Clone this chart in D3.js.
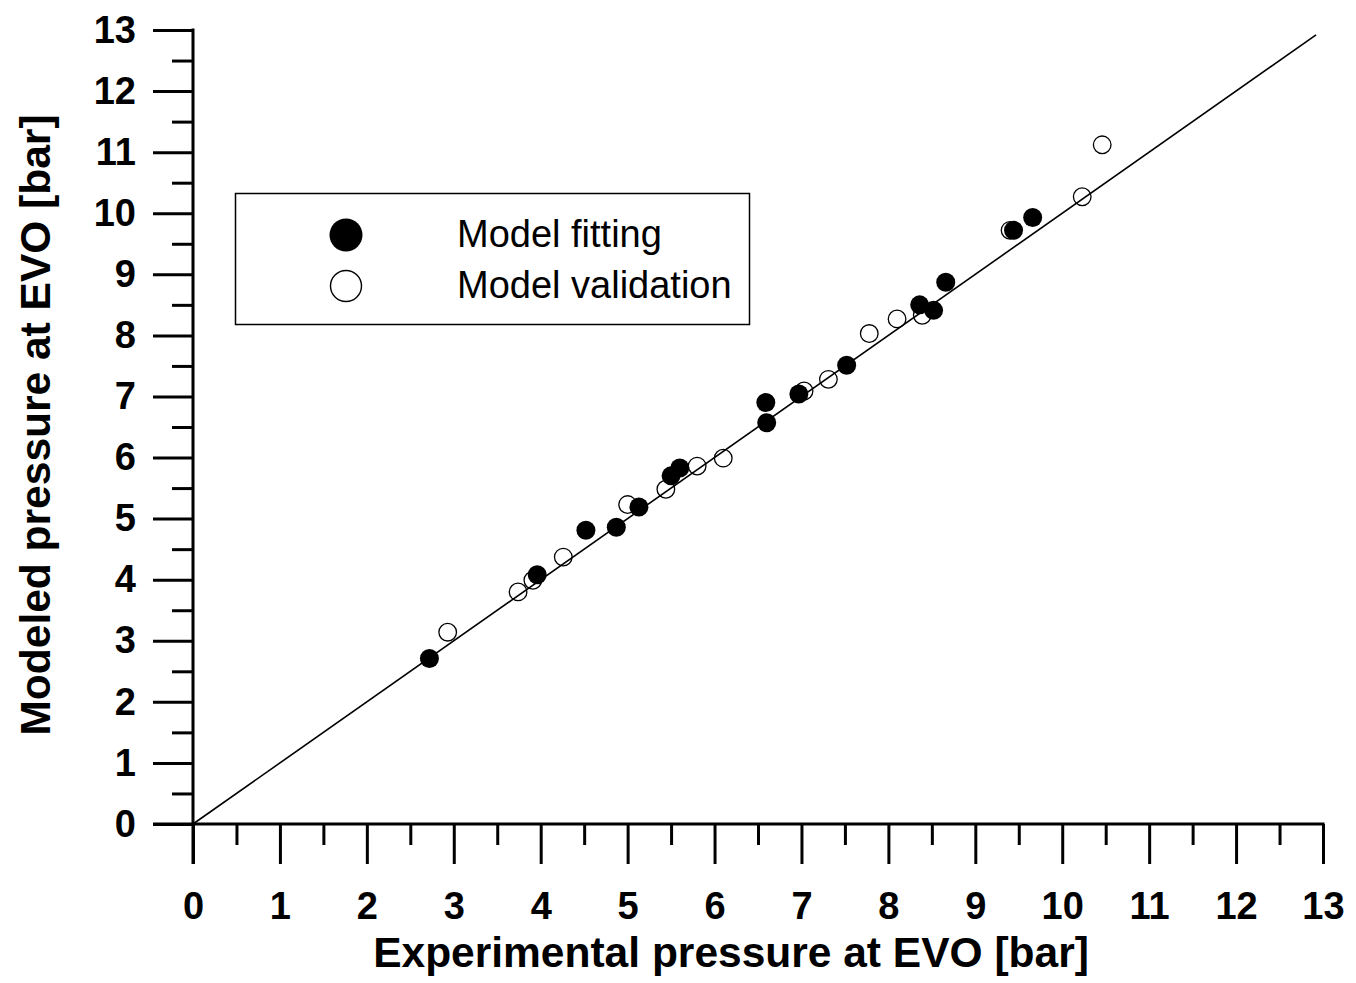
<!DOCTYPE html>
<html>
<head>
<meta charset="utf-8">
<script src="https://cdn.jsdelivr.net/npm/d3@7"></script>
<style>
  html, body { margin: 0; padding: 0; background: #fff; }
  svg { display: block; }
</style>
</head>
<body>
<svg id="chart" width="1356" height="983"></svg>
<script>
// Data
const fitX = [2.72, 3.96, 4.52, 4.87, 5.13, 5.50, 5.60, 6.59, 6.60, 6.97, 7.52, 8.36, 8.52, 8.66, 9.44, 9.66];
const fitY = [2.71, 4.08, 4.81, 4.86, 5.19, 5.70, 5.83, 6.90, 6.57, 7.04, 7.51, 8.50, 8.41, 8.87, 9.72, 9.93];
const valX = [2.93, 3.74, 3.91, 4.26, 5.00, 5.44, 5.80, 6.10, 7.03, 7.31, 7.78, 8.10, 8.39, 9.40, 10.23, 10.46];
const valY = [3.14, 3.80, 3.99, 4.37, 5.23, 5.48, 5.86, 5.99, 7.09, 7.28, 8.03, 8.27, 8.33, 9.72, 10.27, 11.12];
const tickValues = [0,1,2,3,4,5,6,7,8,9,10,11,12,13];
const minorValues = [0.5,1.5,2.5,3.5,4.5,5.5,6.5,7.5,8.5,9.5,10.5,11.5,12.5];
const lineEnds = [0, 12.92];
const legendLabels = ["Model fitting", "Model validation"];
const xTitle = "Experimental pressure at EVO [bar]";
const yTitle = "Modeled pressure at EVO [bar]";

const svg = d3.select("#chart");
const x = d3.scaleLinear().domain([0, 13]).range([193, 1323]);
const y = d3.scaleLinear().domain([0, 13]).range([824, 30]);
const font = "'Liberation Sans', Arial, Helvetica, sans-serif";

// X axis
const gx = svg.append("g").attr("transform", "translate(0,824)");
gx.call(d3.axisBottom(x).tickValues(tickValues).tickSize(40).tickPadding(28).tickSizeOuter(0))
  .call(g => g.select(".domain").remove());
gx.selectAll(".tick line").attr("stroke-width", 3);
gx.selectAll(".tick text").attr("font-family", font).attr("font-weight", "bold")
  .attr("font-size", 38).attr("fill", "#000").attr("dy", "0.71em");
gx.append("g").call(d3.axisBottom(x).tickValues(minorValues).tickSize(21).tickFormat(""))
  .call(g => g.select(".domain").remove())
  .selectAll(".tick line").attr("stroke-width", 3);
svg.append("line").attr("x1", 153).attr("x2", x(13) + 1.5).attr("y1", 824).attr("y2", 824)
  .attr("stroke", "#000").attr("stroke-width", 3);

// Y axis
const gy = svg.append("g").attr("transform", "translate(193,0)");
gy.call(d3.axisLeft(y).tickValues(tickValues).tickSize(40).tickPadding(17).tickSizeOuter(0))
  .call(g => g.select(".domain").remove());
gy.selectAll(".tick line").attr("stroke-width", 3);
gy.selectAll(".tick text").attr("font-family", font).attr("font-weight", "bold")
  .attr("font-size", 38).attr("fill", "#000");
gy.append("g").call(d3.axisLeft(y).tickValues(minorValues).tickSize(21).tickFormat(""))
  .call(g => g.select(".domain").remove())
  .selectAll(".tick line").attr("stroke-width", 3);
svg.append("line").attr("x1", 193).attr("x2", 193).attr("y1", y(13) - 1.5).attr("y2", 864)
  .attr("stroke", "#000").attr("stroke-width", 3);

// Titles
svg.append("text").attr("x", 731).attr("y", 967).attr("text-anchor", "middle")
  .attr("font-family", font).attr("font-weight", "bold").attr("font-size", 42.5).text(xTitle);
svg.append("text").attr("transform", "translate(50,425) rotate(-90)").attr("text-anchor", "middle")
  .attr("font-family", font).attr("font-weight", "bold").attr("font-size", 42.5).text(yTitle);

// Identity line
svg.append("line")
  .attr("x1", x(lineEnds[0])).attr("y1", y(lineEnds[0]))
  .attr("x2", x(lineEnds[1])).attr("y2", y(lineEnds[1]))
  .attr("stroke", "#000").attr("stroke-width", 1.6);

// Points
const valData = valX.map((v, i) => ({x: v, y: valY[i]}));
const fitData = fitX.map((v, i) => ({x: v, y: fitY[i]}));
svg.append("g").selectAll("circle").data(valData).join("circle")
  .attr("cx", d => x(d.x)).attr("cy", d => y(d.y)).attr("r", 8.8)
  .attr("fill", "none").attr("stroke", "#000").attr("stroke-width", 1.3);
svg.append("g").selectAll("circle").data(fitData).join("circle")
  .attr("cx", d => x(d.x)).attr("cy", d => y(d.y)).attr("r", 9.5)
  .attr("fill", "#000");

// Legend
const lg = svg.append("g");
lg.append("rect").attr("x", 235.5).attr("y", 193.5).attr("width", 514).attr("height", 131)
  .attr("fill", "#fff").attr("stroke", "#000").attr("stroke-width", 1.5);
lg.append("circle").attr("cx", 346).attr("cy", 235).attr("r", 16.5).attr("fill", "#000");
lg.append("circle").attr("cx", 346).attr("cy", 286).attr("r", 15.5).attr("fill", "none")
  .attr("stroke", "#000").attr("stroke-width", 1.4);
lg.selectAll("text.lab").data(legendLabels).join("text").attr("class", "lab")
  .attr("x", 457).attr("y", (d, i) => 247 + i * 51)
  .attr("font-family", font).attr("font-size", 38).attr("fill", "#000").text(d => d);
</script>
</body>
</html>
